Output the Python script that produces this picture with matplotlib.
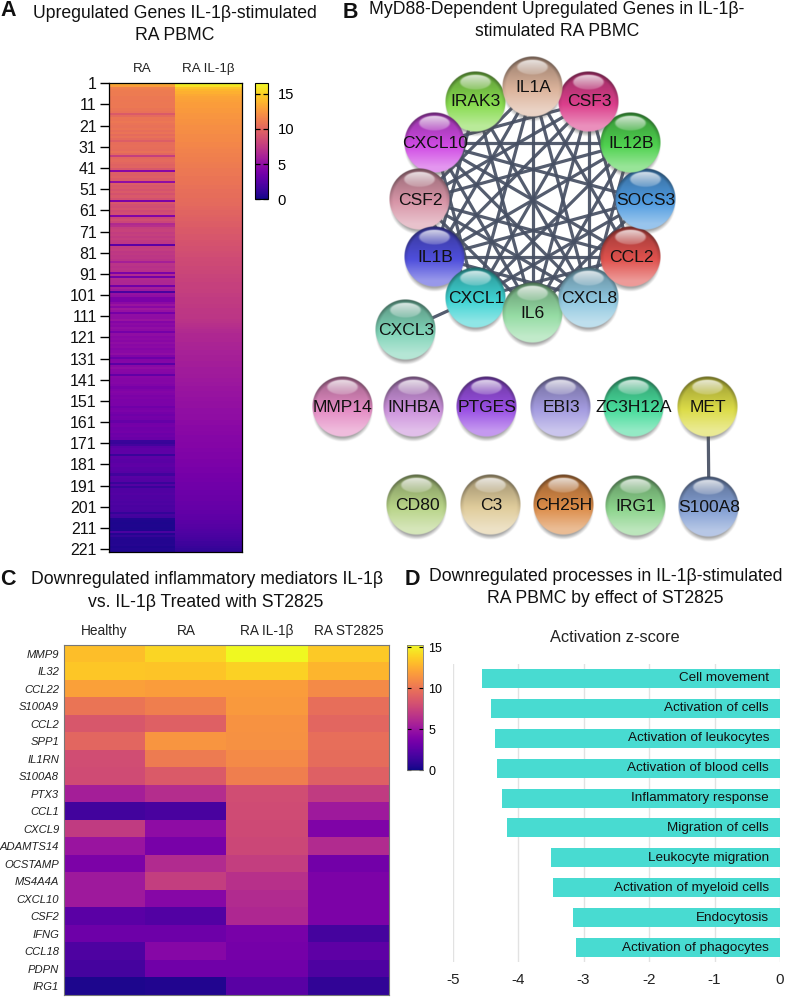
import numpy as np
import matplotlib
matplotlib.use('Agg')
import matplotlib.pyplot as plt
from matplotlib.colors import to_rgb

plt.rcParams['font.family'] = ['Liberation Sans', 'DejaVu Sans']

W, H = 789, 997

# panel A
a_columns = ['RA', 'RA IL-1β']
a_ticks = list(range(1, 222, 10))
a_ra = [13.5,12.8,11.4,11.2,11.1,11.1,11.0,11.0,10.9,11.0,
        10.9,11.0,10.8,10.6,9.4,10.2,10.8,10.7,10.9,10.7,
        10.6,10.8,10.5,10.7,10.3,10.6,10.2,9.6,10.4,10.5,
        10.4,10.3,10.6,10.1,7.8,10.0,10.2,10.0,9.8,9.9,
        9.2,4.6,9.6,9.5,9.7,9.4,5.0,9.5,9.2,9.3,
        9.0,9.4,8.9,9.3,8.8,4.1,9.1,8.8,8.6,8.9,
        8.5,8.7,4.3,8.3,8.6,8.2,6.6,6.9,7.8,8.0,
        7.7,7.9,7.6,7.8,7.5,7.4,2.7,7.6,7.7,7.4,
        7.5,7.3,7.4,7.1,6.0,7.2,7.0,7.1,6.9,4.0,
        6.7,3.7,6.6,6.5,6.4,3.6,6.0,5.6,2.0,5.2,
        5.0,4.1,4.0,4.8,5.4,4.7,5.6,5.2,3.8,5.0,
        4.9,5.3,4.4,4.8,4.6,5.0,4.8,3.8,4.9,4.7,
        4.8,4.6,4.9,4.7,4.8,4.5,4.7,4.9,4.3,3.4,
        4.4,4.5,2.7,4.7,4.9,4.6,4.5,3.0,4.6,4.5,
        4.4,4.5,4.3,3.9,4.2,4.4,4.3,4.1,4.2,4.0,
        4.1,4.0,3.6,3.9,4.0,3.8,3.5,3.8,3.7,3.1,
        3.7,3.8,3.5,3.6,3.7,3.4,3.5,3.3,1.4,1.3,
        1.8,2.7,2.9,2.8,2.9,1.4,2.8,2.7,2.6,2.8,
        2.9,2.6,2.7,2.5,1.7,2.6,2.5,2.4,1.4,2.4,
        1.4,2.2,2.3,2.4,2.2,2.3,2.2,2.1,2.2,2.0,
        2.1,2.0,1.2,1.9,1.7,0.6,0.5,0.4,0.5,0.4,
        0.5,2.0,0.7,1.2,0.7,0.6,0.6,0.7,0.5,0.6,0.5]
a_il1b = [16.4,15.6,14.4,13.9,13.6,13.3,13.1,13.0,12.9,12.8,
          12.7,12.7,12.6,12.6,12.5,12.4,12.4,12.3,12.3,12.2,
          12.1,12.1,12.0,12.0,11.9,11.9,11.8,11.8,11.7,11.7,
          11.6,11.5,11.5,11.4,11.4,11.3,11.3,11.2,11.1,11.1,
          11.0,11.0,10.9,10.9,10.8,10.8,10.7,10.7,10.6,10.6,
          10.5,10.5,10.4,10.4,10.3,10.3,10.2,10.2,10.1,10.0,
          9.9,9.9,9.8,9.7,9.7,9.6,9.5,9.5,9.4,9.3,
          9.3,9.2,9.1,9.1,9.0,8.9,8.9,8.8,8.8,8.7,
          8.6,8.6,8.5,8.5,8.4,8.4,8.3,8.3,8.2,8.2,
          8.1,8.1,8.0,8.0,7.9,7.9,7.9,7.8,7.8,7.7,
          7.7,7.6,7.6,7.6,7.5,7.5,7.4,7.4,7.4,7.3,
          7.3,7.2,7.1,7.0,6.9,6.8,6.7,6.6,6.5,6.5,
          6.4,6.4,6.3,6.3,6.2,6.2,6.1,6.1,6.0,6.0,
          6.0,5.9,5.9,5.9,5.8,5.8,5.8,5.7,5.7,5.6,
          5.6,5.5,5.5,5.4,5.4,5.3,5.3,5.3,5.2,5.2,
          5.1,5.1,5.1,5.0,5.0,5.0,4.9,4.9,4.9,4.8,
          4.8,4.7,4.7,4.7,4.6,4.6,4.5,4.5,4.5,4.4,
          4.4,4.4,4.3,4.3,4.2,4.2,4.2,4.1,4.1,4.0,
          4.0,3.9,3.9,3.9,3.8,3.8,3.7,3.7,3.6,3.6,
          3.5,3.5,3.4,3.4,3.3,3.3,3.3,3.2,3.2,3.1,
          3.1,3.0,3.0,2.9,2.8,2.8,2.7,2.6,2.5,2.4,
          2.3,2.2,2.1,2.0,1.9,1.8,1.6,1.5,1.3,1.2,1.0]

# panel B
ring_names = ['IL1A', 'CSF3', 'IL12B', 'SOCS3', 'CCL2', 'CXCL8', 'IL6', 'CXCL1',
              'IL1B', 'CSF2', 'CXCL10', 'IRAK3', 'CXCL3']
other_names = ['MMP14', 'INHBA', 'PTGES', 'EBI3', 'ZC3H12A', 'MET',
               'CD80', 'C3', 'CH25H', 'IRG1', 'S100A8']
edges = {
    'IL1A': ['CCL2', 'CXCL8', 'IL6', 'CXCL1', 'IL1B', 'CSF2'],
    'CSF3': ['CCL2', 'CXCL8', 'IL6', 'CXCL1', 'IL1B', 'CSF2', 'CXCL10'],
    'IL12B': ['CXCL8', 'IL6', 'CXCL1', 'IL1B', 'CSF2', 'CXCL10'],
    'SOCS3': ['IL6', 'CXCL1', 'IL1B', 'CXCL10'],
    'CCL2': ['CXCL1', 'IL1B', 'CSF2', 'CXCL10'],
    'CXCL8': ['IL1B', 'CSF2', 'CXCL10', 'IRAK3'],
    'IL6': ['CSF2', 'CXCL10', 'IRAK3'],
    'CXCL1': ['CSF2', 'CXCL10', 'CXCL3'],
    'IL1B': ['IRAK3'],
    'MET': ['S100A8'],
}

# panel C
c_columns = ['Healthy', 'RA', 'RA IL-1β', 'RA ST2825']
c_genes = ['MMP9', 'IL32', 'CCL22', 'S100A9', 'CCL2', 'SPP1', 'IL1RN', 'S100A8', 'PTX3', 'CCL1',
           'CXCL9', 'ADAMTS14', 'OCSTAMP', 'MS4A4A', 'CXCL10', 'CSF2', 'IFNG', 'CCL18', 'PDPN', 'IRG1']
c_healthy = [13.2, 13.5, 12.0, 10.0, 8.5, 9.3, 8.0, 7.9, 5.5, 1.6, 7.0, 5.0, 3.8, 5.2, 5.2, 2.5, 3.2, 2.0, 1.7, 0.4]
c_ra = [14.0, 13.4, 11.8, 10.5, 9.0, 11.5, 10.3, 8.7, 6.3, 1.8, 4.5, 3.6, 6.2, 7.2, 4.2, 2.2, 3.2, 4.2, 3.3, 0.5]
c_il1b = [15.3, 13.9, 11.8, 11.7, 11.4, 11.3, 11.0, 10.5, 8.0, 7.9, 7.8, 7.7, 7.2, 6.5, 6.2, 6.0, 3.6, 3.5, 3.3, 2.4]
c_st2825 = [13.6, 12.8, 11.0, 9.7, 9.3, 9.7, 9.6, 9.0, 7.0, 5.2, 3.9, 6.2, 3.4, 3.8, 3.8, 3.8, 1.7, 2.6, 2.0, 1.0]

# panel D
d_terms = ['Cell movement', 'Activation of cells', 'Activation of leukocytes', 'Activation of blood cells',
           'Inflammatory response', 'Migration of cells', 'Leukocyte migration',
           'Activation of myeloid cells', 'Endocytosis', 'Activation of phagocytes']
d_zscore = [-4.56, -4.42, -4.36, -4.32, -4.24, -4.17, -3.50, -3.47, -3.16, -3.11]

# network drawing: layout in figure pixels and sphere colours
layout = {'IL1A': (533, 87), 'CSF3': (589, 102), 'IL12B': (631, 143), 'SOCS3': (646, 200),
          'CCL2': (631, 257), 'CXCL8': (589, 298), 'IL6': (533, 313), 'CXCL1': (476, 298),
          'IL1B': (435, 257), 'CSF2': (420, 200), 'CXCL10': (435, 143), 'IRAK3': (476, 102),
          'CXCL3': (406, 330),
          'MMP14': (343, 407), 'INHBA': (414, 407), 'PTGES': (487, 407), 'EBI3': (561, 407),
          'ZC3H12A': (634, 407), 'MET': (708, 407),
          'CD80': (417, 505), 'C3': (491, 505), 'CH25H': (564, 505), 'IRG1': (636, 506), 'S100A8': (709, 507)}
sphere_colors = {'IL1A': '#dcb49c', 'CSF3': '#dc3f8c', 'IL12B': '#4fd24f', 'SOCS3': '#4f9be0',
                 'CCL2': '#e0524e', 'CXCL8': '#90c8e0', 'IL6': '#95dca4', 'CXCL1': '#3fd4d4',
                 'IL1B': '#4f4fdc', 'CSF2': '#d896a8', 'CXCL10': '#d04ae4', 'IRAK3': '#88dc50',
                 'CXCL3': '#80d4b8', 'MMP14': '#e48cc4', 'INHBA': '#cc92dc', 'PTGES': '#9a50e4',
                 'EBI3': '#a49ce0', 'ZC3H12A': '#48dc9c', 'MET': '#dcdc48', 'CD80': '#b8d488',
                 'C3': '#e0cc9c', 'CH25H': '#dc8c48', 'IRG1': '#8cd48c', 'S100A8': '#84a0d4'}


def px_axes(x0, y0, x1, y1):
    # axes placed with pixel coordinates of the picture (y downwards)
    return fig.add_axes([x0 / W, 1 - y1 / H, (x1 - x0) / W, (y1 - y0) / H])


def sphere_rgba(color, n=121):
    base = np.array(to_rgb(color))
    yy, xx = np.mgrid[-1:1:n * 1j, -1:1:n * 1j]
    rr = np.sqrt(xx ** 2 + yy ** 2)
    t = np.clip((yy + 1) / 1.1, 0, 1)[..., None]
    top = base * 0.68
    rgb = top + (base - top) * t
    low = np.clip((yy - 0.1) / 0.7, 0, 1)[..., None]
    rgb = rgb + (1 - rgb) * 0.42 * low
    # darker edge on the upper half only
    rim = (np.clip((rr - 0.86) / 0.14, 0, 1) * np.clip(0.4 - yy, 0, 1))[..., None]
    rgb = rgb * (1 - 0.35 * rim)
    # gloss patch at the top
    g = np.clip(1 - ((xx / 0.54) ** 2 + ((yy + 0.64) / 0.26) ** 2), 0, 1)[..., None]
    fade = np.clip(0.8 - (yy[..., None] + 0.9) * 1.2, 0.15, 0.8)
    gloss = np.clip(g * 4, 0, 1) * fade
    rgb = rgb + (1 - rgb) * gloss
    alpha = np.clip((1 - rr) * n / 2, 0, 1)
    return np.dstack([np.clip(rgb, 0, 1), alpha])


def shadow_rgba(n=121):
    yy, xx = np.mgrid[-1:1:n * 1j, -1:1:n * 1j]
    rr = np.sqrt(xx ** 2 + yy ** 2)
    alpha = np.clip((1 - rr) / 0.14, 0, 1) * 0.5
    out = np.zeros((n, n, 4))
    out[..., :3] = 0.3
    out[..., 3] = alpha
    return out


fig = plt.figure(figsize=(W / 100, H / 100), dpi=100)

# ---- A
ax = px_axes(108.5, 83, 241.5, 552)
mat_a = np.column_stack([a_ra, a_il1b])
im_a = ax.imshow(mat_a, aspect='auto', cmap='plasma', vmin=0, vmax=16.5, interpolation='nearest',
                 extent=[0, 2, 221.5, 0])
ax.set_xticks([0.5, 1.5], a_columns, fontsize=9.6, color='#222222')
ax.xaxis.tick_top()
ax.tick_params(axis='x', length=0, pad=6)
ax.set_yticks([t - 1 + 0.15 for t in a_ticks], a_ticks, fontsize=11.5, color='#111111')
ax.tick_params(axis='y', length=6.5, width=1, pad=2)
for s in ax.spines.values():
    s.set_linewidth(0.9)

cax = px_axes(254.5, 83, 268, 199.5)
cb = fig.colorbar(im_a, cax=cax)
cb.set_ticks([0, 5, 10, 15])
cax.tick_params(axis='y', direction='in', length=3.5, width=0.9, pad=7, labelsize=10.6, left=True, right=True)
cb.outline.set_linewidth(0.8)

# ---- C
ax = px_axes(64, 645, 389, 995)
mat_c = np.column_stack([c_healthy, c_ra, c_il1b, c_st2825])
im_c = ax.imshow(mat_c, aspect='auto', cmap='plasma', vmin=0, vmax=15.3, interpolation='nearest')
ax.set_xticks(range(4), c_columns, fontsize=9.8, color='#222222')
ax.xaxis.tick_top()
ax.tick_params(axis='x', length=0, pad=5)
ax.set_yticks(range(20), c_genes, fontsize=8.1, style='italic', color='#222222')
ax.tick_params(axis='y', length=0, pad=3.5)
for s in ax.spines.values():
    s.set_linewidth(0.8)
    s.set_color('#777777')

cax = px_axes(406.5, 645, 422.5, 770)
cb = fig.colorbar(im_c, cax=cax)
cb.set_ticks([0, 5, 10, 15])
cax.tick_params(axis='y', direction='in', length=3, width=0.8, pad=4, labelsize=9, left=True, right=True)
cb.outline.set_linewidth(0.6)
cb.outline.set_edgecolor('#777777')

# ---- D
ax = px_axes(452.7, 664, 780, 962)
pos = np.arange(len(d_terms))
ax.barh(pos, d_zscore, height=0.635, color='#48dbd1', zorder=3)
ax.set_xlim(-5, 0)
ax.set_ylim(9.48, -0.48)
ax.grid(axis='x', color='#e2e2e2', linewidth=1, zorder=0)
ax.set_xticks([-5, -4, -3, -2, -1, 0], ['-5', '-4', '-3', '-2', '-1', '0'], fontsize=11, color='#222222')
ax.set_yticks([])
ax.tick_params(axis='x', length=0, pad=8)
for s in ax.spines.values():
    s.set_visible(False)
for i, term in enumerate(d_terms):
    ax.text(-0.168, i, term, ha='right', va='center', fontsize=9.7, color='#111111', zorder=4)

# ---- B and all free text, in picture pixels
ov = fig.add_axes([0, 0, 1, 1], facecolor='none')
ov.set_axis_off()

for a, targets in edges.items():
    for b in targets:
        (x0, y0), (x1, y1) = layout[a], layout[b]
        ov.plot([x0, x1], [y0, y1], color='#464f63', lw=2.3, alpha=0.92, solid_capstyle='butt', zorder=1)

R = 30.5
shadow = shadow_rgba()
order = ring_names[::-1] + other_names
for name in order:
    x, y = layout[name]
    ov.imshow(shadow, extent=[x - R, x + R, y + R + 5, y - R + 5], interpolation='bilinear', zorder=2, aspect='auto')
for name in order:
    x, y = layout[name]
    ov.imshow(sphere_rgba(sphere_colors[name]), extent=[x - R, x + R, y + R, y - R],
              interpolation='bilinear', zorder=3, aspect='auto')
    ov.text(x, y, name, ha='center', va='center', fontsize=12.6, color='#111111', zorder=5)

ov.set_xlim(0, W)
ov.set_ylim(H, 0)

for letter, x, y in [('A', 8, 11), ('B', 350, 12), ('C', 8, 579), ('D', 412, 579)]:
    ov.text(x, y, letter, fontsize=15.5, fontweight='bold', ha='center', va='center', color='#111111')

titles = [('Upregulated Genes IL-1β-stimulated', 174.5, 14), ('RA PBMC', 174.5, 35),
          ('MyD88-Dependent Upregulated Genes in IL-1β-', 557, 10), ('stimulated RA PBMC', 557, 32),
          ('Downregulated inflammatory mediators IL-1β', 207, 579), ('vs. IL-1β Treated with ST2825', 206, 602),
          ('Downregulated processes in IL-1β-stimulated', 605.5, 576), ('RA PBMC by effect of ST2825', 605, 598)]
for txt, x, y in titles:
    ov.text(x, y, txt, fontsize=12.7, ha='center', va='center', color='#111111')
ov.text(615, 637, 'Activation z-score', fontsize=11.8, ha='center', va='center', color='#222222')

fig.savefig('out.png', dpi=100)
